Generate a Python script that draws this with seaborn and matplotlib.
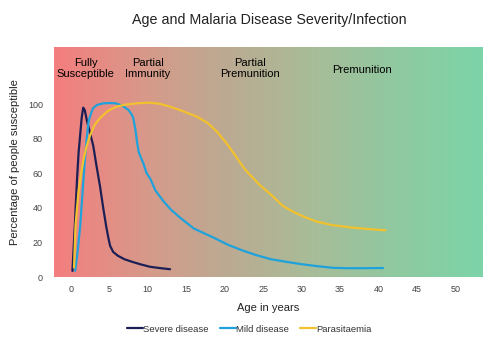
import numpy as np
import pandas as pd
import seaborn as sns
import matplotlib.pyplot as plt
from matplotlib.colors import LinearSegmentedColormap

sns.set_theme(style="white")
plt.rcParams['font.family'] = ['Liberation Sans', 'DejaVu Sans']

# Data
severe_x = [0.2, 0.5, 0.8, 1.0, 1.2, 1.4, 1.6, 1.8, 2.1, 2.5, 2.9, 3.3, 3.8, 4.2, 4.6,
            4.9, 5.1, 5.5, 6.1, 7.0, 8.1, 9.0, 10.3, 11.5, 12.9]
severe_y = [3.5, 29, 57, 72, 82, 92, 97.9, 96.5, 90, 83, 76, 65, 52, 40, 29,
            22, 18, 14.5, 12.3, 10.2, 8.6, 7.4, 5.9, 5.2, 4.5]

mild_x = [0.55, 0.8, 1.2, 1.5, 1.8, 2.05, 2.3, 2.6, 2.9, 3.4, 4.2, 5.0, 5.9, 6.7, 7.5,
          7.9, 8.1, 8.4, 8.6, 8.8, 9.1, 9.4, 9.85, 10.3, 11.0, 12.0, 13.0, 14.2, 16.0,
          18.5, 20.5, 22.4, 24.0, 26.0, 28.0, 30.0, 32.0, 34.1, 36.0, 38.0, 40.6]
mild_y = [3.6, 12, 29, 48, 67, 80, 90, 94.5, 97.7, 99.5, 100.4, 100.6, 100.4, 99, 96.5,
          94, 92, 85, 78, 72.6, 69, 66, 60, 57, 50, 44, 39, 34.3, 28,
          22.9, 18.5, 15.2, 12.8, 10.3, 8.8, 7.4, 6.3, 5.3, 5.1, 5.1, 5.2]

para_x = [0.4, 0.6, 0.95, 1.3, 1.6, 2.0, 2.5, 3.1, 3.8, 4.8, 5.9, 7.0, 8.5, 10.3, 11.5,
          12.9, 14.5, 16.4, 17.8, 19.0, 20.3, 21.6, 22.5, 23.3, 24.6, 26.0, 27.6, 29.0,
          30.5, 32.0, 34.0, 36.3, 38.5, 40.9]
para_y = [5.5, 30, 47.7, 59, 67, 75, 82, 88, 92, 96, 98.5, 99.6, 100.4, 100.8, 100.2,
          98.5, 96, 92.7, 89, 84, 77, 68.8, 63, 59, 53, 47.7, 41, 37.5,
          34.5, 32, 30, 28.7, 27.8, 27]

series_names = ["Severe disease", "Mild disease", "Parasitaemia"]
series_colors = ["#1c1f55", "#1fa2dc", "#f2c12e"]

x_ticks = [0, 5, 10, 15, 20, 25, 30, 35, 40, 45, 50]
y_ticks = [0, 20, 40, 60, 80, 100]

regions = ["Fully\nSusceptible", "Partial\nImmunity", "Partial\nPremunition", "Premunition"]
region_x = [1.9, 10.0, 23.3, 37.9]
region_y = [120.5, 120.5, 120.5, 119.5]

df = pd.concat([
    pd.DataFrame({"Age": severe_x, "Pct": severe_y, "Series": series_names[0]}),
    pd.DataFrame({"Age": mild_x, "Pct": mild_y, "Series": series_names[1]}),
    pd.DataFrame({"Age": para_x, "Pct": para_y, "Series": series_names[2]}),
])

fig = plt.figure(figsize=(5.0, 3.48), dpi=100)
ax = fig.add_axes([0.108, 0.204, 0.858, 0.661])

xlim = (-2.2, 53.6)
ylim = (0, 133)

cmap = LinearSegmentedColormap.from_list(
    "bg", [(0.0, "#f47e7e"), (0.22, "#d69a8a"), (0.4, "#bcaa92"),
           (0.6, "#a8bc98"), (0.8, "#90c9a0"), (1.0, "#7cd4a8")])
grad = np.linspace(0, 1, 256).reshape(1, -1)
ax.imshow(grad, extent=[xlim[0], xlim[1], ylim[0], ylim[1]], aspect="auto",
          cmap=cmap, zorder=0, interpolation="bilinear")

sns.lineplot(data=df, x="Age", y="Pct", hue="Series", hue_order=series_names,
             palette=series_colors, sort=False, estimator=None, linewidth=1.6,
             ax=ax, zorder=3)
for ln in ax.get_lines():
    ln.set_solid_joinstyle("round")
    ln.set_solid_capstyle("round")

ax.set_xlim(*xlim)
ax.set_ylim(*ylim)
ax.set_xticks(x_ticks)
ax.set_yticks(y_ticks)
ax.tick_params(axis="x", labelsize=6.5, colors="#444444", length=0, pad=6)
ax.tick_params(axis="y", labelsize=6.5, colors="#444444", length=0, pad=8)
for s in ax.spines.values():
    s.set_visible(False)

for t, xx, yy in zip(regions, region_x, region_y):
    ax.text(xx, yy, t, ha="center", va="center", fontsize=8, color="black",
            linespacing=1.1, zorder=4)

ax.set_xlabel("Age in years", fontsize=8, color="#222222", labelpad=6)
ax.set_ylabel("Percentage of people susceptible", fontsize=8, color="#222222", labelpad=6)
fig.text(0.538, 0.942, "Age and Malaria Disease Severity/Infection",
         ha="center", va="center", fontsize=10.3, color="#222222")

handles, labels = ax.get_legend_handles_labels()
ax.legend(handles, labels, loc="upper center", bbox_to_anchor=(0.455, -0.17),
          ncol=3, frameon=False, fontsize=6.8, handlelength=1.7, handletextpad=0.0,
          columnspacing=1.2, labelcolor="#333333")

fig.savefig("out.png", dpi=100)
